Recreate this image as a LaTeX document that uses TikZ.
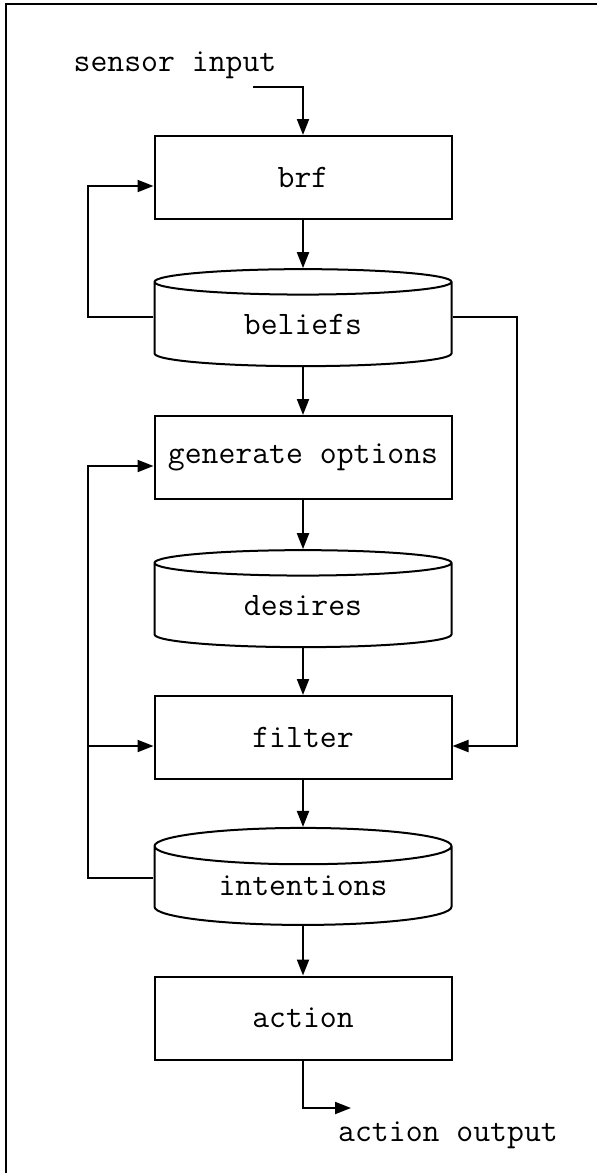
\documentclass[tikz,border=0pt]{standalone}
\usepackage{fontspec}
\usepackage{tikz}
\usetikzlibrary{arrows.meta,positioning,calc,shapes.geometric}
\tikzset{
  arr/.style={-{Triangle[length=8pt,width=6pt]}, line width=1pt},
  blk/.style={draw, line width=1pt, minimum width=148.5pt, minimum height=41.5pt,
              inner sep=0pt, font=\ttfamily\fontsize{16.4}{18}\selectfont},
  store/.style={cylinder, shape border rotate=90, aspect=0.215, draw, line width=1pt,
                minimum width=148.5pt, minimum height=48.5pt, inner sep=0pt,
                font=\ttfamily\fontsize{16.4}{18}\selectfont},
  lbl/.style={inner sep=0pt, font=\ttfamily\fontsize{16.4}{18}\selectfont},
}

\begin{document}
\begin{tikzpicture}[x=0.5pt, y=-0.5pt]
  \useasboundingbox (0,0) rectangle (597,1173);
  \draw[line width=1.2pt] (6,1180) -- (6,4) -- (605,4);
  % boxes and stores
  \node[blk] (brf) at (303,177.5) {brf};
  \node[store] (beliefs) at (303,324.5) {beliefs};
  \node[blk] (genopt) at (303,457.5) {generate options};
  \node[store] (desires) at (303,605.5) {desires};
  \node[blk] (filter) at (303,737.5) {filter};
  \node[store] (intentions) at (303,886) {intentions};
  \node[blk] (action) at (303,1018) {action};
  % in and out
  \node[lbl] (sensin) at (175,65) {sensor input};
  \coordinate (sensor) at (253,87);
  \coordinate (actout) at (351,1108);
  \node[lbl] (actlbl) at (448,1135) {action output};
  \coordinate (lrail) at (88,0);
  \coordinate (rrail) at (517,0);
  % main flow
  \draw[arr] (sensor) -| (brf.north);
  \draw[arr] (brf) -- (beliefs);
  \draw[arr] (beliefs) -- (genopt);
  \draw[arr] (genopt) -- (desires);
  \draw[arr] (desires) -- (filter);
  \draw[arr] (filter) -- (intentions);
  \draw[arr] (intentions) -- (action);
  \draw[arr] (action.south) |- (actout);
  % feedback
  \draw[arr] ([yshift=4pt]beliefs.west) -- ([yshift=4pt]beliefs.west -| lrail) |- ([yshift=-4.25pt]brf.west);
  \draw[arr] ([yshift=4pt]beliefs.east) -- ([yshift=4pt]beliefs.east -| rrail) |- ([yshift=-4.25pt]filter.east);
  \draw[arr] ([yshift=4pt]intentions.west) -- ([yshift=4pt]intentions.west -| lrail) |- ([yshift=-4.25pt]genopt.west);
  \draw[arr] ([yshift=-4.25pt]filter.west -| lrail) -- ([yshift=-4.25pt]filter.west);
\end{tikzpicture}
\end{document}
